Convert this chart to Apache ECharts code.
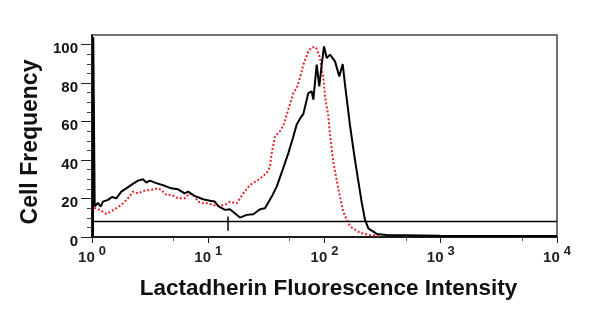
<!DOCTYPE html>
<html>
<head>
<meta charset="utf-8">
<script src="https://cdn.jsdelivr.net/npm/echarts@6/dist/echarts.min.js"></script>
<style>
  html, body { margin: 0; padding: 0; background: #fff; }
  #chart { width: 600px; height: 324px; }
</style>
</head>
<body>
<div id="chart"></div>
<script>
// axis ticks
const xTicks = [1, 10, 100, 1000, 10000]
const xMinorTicks = [5, 50, 500, 5000]
const yTicks = [0, 20, 40, 60, 80, 100]
const yMinorTicks = [5, 10, 15, 25, 30, 35, 45, 50, 55, 65, 70, 75, 85, 90, 95]

// black histogram (solid)
const blackX = [1.02, 1.025, 1.05, 1.055, 1.126, 1.188, 1.243, 1.373, 1.486, 1.618, 1.787, 1.973, 2.178, 2.486, 2.746, 2.931, 3.135, 3.574, 4.22, 4.81, 5.495, 6.266, 6.695, 7.643, 9.016, 10.35, 11.37, 12.2, 13.93, 15.38, 18.75, 21.42, 24.43, 27.86, 30.76, 35.16, 38.81, 44.26, 48.86, 53.95, 57.68, 61.52, 65.77, 72.61, 77.62, 80.17, 85.7, 90.19, 94.62, 99.08, 104.4, 111.5, 123.1, 134.0, 143.4, 150.1, 165.7, 176.9, 182.9, 195.4, 208.9, 222.9, 238.2, 281.2, 342.8, 985, 10000]
const blackY = [0, 104, 104, 16, 17.7, 15.8, 18.4, 19.3, 20.8, 20.1, 23.6, 25.3, 27.1, 29.3, 30.0, 28.3, 29.3, 28.0, 26.6, 25.3, 24.8, 22.7, 23.6, 21.4, 19.6, 18.8, 18.4, 16.1, 14.1, 14.4, 10.1, 11.5, 11.8, 14.4, 14.9, 21.0, 26.2, 36.0, 43.6, 52.2, 58.5, 61.5, 64, 74.8, 75.7, 71.4, 89.6, 78.3, 89.6, 99.1, 93, 94.8, 91.3, 83.5, 89.9, 79.2, 58, 46, 40, 29, 18, 9, 4.5, 1.6, 1.0, 0.7, 0.5]

// red histogram (dotted)
const redX = [1.02, 1.06, 1.165, 1.327, 1.567, 1.787, 2.04, 2.253, 2.486, 2.84, 3.236, 3.697, 3.946, 4.356, 4.81, 5.495, 6.266, 6.925, 7.643, 8.165, 9.016, 9.95, 11.83, 13.93, 15.38, 17.57, 20.03, 22.86, 26.96, 31.84, 33.97, 35.16, 37.5, 41.4, 44.26, 47.29, 53.95, 57.68, 61.52, 65.77, 72.61, 77.62, 84.5, 91.5, 97.7, 101.0, 107.8, 111.5, 119.0, 131.5, 145.1, 165.8, 202.0, 246.3, 300.2]
const redY = [19.5, 15, 14.1, 12.0, 14.4, 16.7, 20.1, 23.6, 22.7, 24.1, 24.5, 25.3, 24.5, 21.9, 21.9, 20.1, 20.1, 22.7, 21.0, 18.4, 17.5, 17.5, 16.1, 16.7, 18.4, 17.5, 22.7, 27.1, 29.7, 33.2, 36.6, 43.6, 52.2, 55, 58, 63.5, 74.8, 77.4, 82.6, 89.6, 96.5, 98.6, 98.6, 93.1, 82.6, 73, 63, 53, 39, 25, 13, 5.5, 2.2, 1.0, 0.5]

// gate line and its marker
const gateX = [1, 10000]
const gateY = [8, 8]
const markerX = [14.8, 14.8]
const markerY = [3.3, 10.6]

const pairs = (xs, ys) => xs.map((x, i) => [x, ys[i]])

const chart = echarts.init(document.getElementById('chart'), null, { renderer: 'canvas' })

const boldFont = { fontFamily: 'Liberation Sans, Arial, sans-serif', fontWeight: 'bold', color: '#111' }

const option = {
  animation: false,
  grid: { left: 92, right: 43, top: 35, bottom: 87, show: true, borderColor: '#444', borderWidth: 1.5 },
  xAxis: [
    {
      type: 'log', logBase: 10, min: 1, max: 10000, position: 'bottom',
      name: 'Lactadherin Fluorescence Intensity', nameLocation: 'middle', nameGap: 40,
      nameTextStyle: { ...boldFont, fontSize: 22.5, padding: [0, 0, 0, 8] },
      axisLine: { show: true, lineStyle: { color: '#000', width: 1.5 } },
      axisTick: { show: true, length: 6, customValues: xTicks, lineStyle: { color: '#222' } },
      axisLabel: {
        customValues: xTicks, margin: 8,
        formatter: v => '{b|10}{s|' + Math.round(Math.log10(v)) + '}',
        rich: {
          b: { ...boldFont, fontSize: 15, lineHeight: 20, verticalAlign: 'bottom', color: '#222' },
          s: { ...boldFont, fontSize: 13, lineHeight: 20, verticalAlign: 'top', padding: [0, 0, 0, 4], color: '#222' }
        }
      },
      splitLine: { show: false }
    },
    {
      type: 'log', logBase: 10, min: 1, max: 10000, position: 'bottom',
      axisLine: { show: false },
      axisTick: { show: true, length: 4, customValues: xMinorTicks, lineStyle: { color: '#555' } },
      axisLabel: { show: false },
      splitLine: { show: false }
    }
  ],
  yAxis: [
    {
      type: 'value', min: 0, max: 105,
      name: 'Cell Frequency', nameLocation: 'middle', nameGap: 50,
      nameTextStyle: { ...boldFont, fontSize: 23, padding: [0, 12, 0, 0] },
      axisLine: { show: true, lineStyle: { color: '#000', width: 1.5 } },
      axisTick: { show: true, length: 11, customValues: yTicks, lineStyle: { color: '#222' } },
      axisLabel: { customValues: yTicks, margin: 14, ...boldFont, fontSize: 15, verticalAlign: 'top', lineHeight: 9 },
      splitLine: { show: false }
    },
    {
      type: 'value', min: 0, max: 105, position: 'left',
      axisLine: { show: false },
      axisTick: { show: true, length: 5, customValues: yMinorTicks, lineStyle: { color: '#444' } },
      axisLabel: { show: false },
      splitLine: { show: false }
    }
  ],
  series: [
    {
      name: 'red', type: 'line', data: pairs(redX, redY), symbol: 'none',
      lineStyle: { color: '#e8252d', width: 2, type: 'dotted' }, z: 3
    },
    {
      name: 'black', type: 'line', data: pairs(blackX, blackY), symbol: 'none',
      lineStyle: { color: '#000', width: 2 }, z: 4
    },
    {
      name: 'gate', type: 'line', data: pairs(gateX, gateY), symbol: 'none',
      lineStyle: { color: '#000', width: 1.5 }, z: 5
    },
    {
      name: 'marker', type: 'line', data: pairs(markerX, markerY), symbol: 'none',
      lineStyle: { color: '#000', width: 1.5 }, z: 5
    }
  ]
}

chart.setOption(option)
window.addEventListener('resize', () => chart.resize())
</script>
</body>
</html>
